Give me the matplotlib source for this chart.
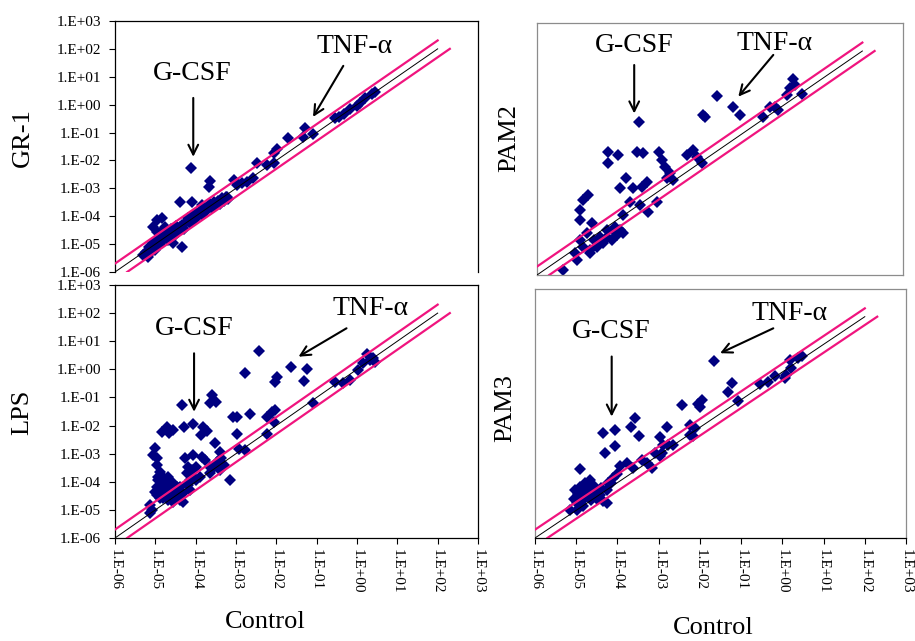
import numpy as np
import matplotlib
matplotlib.use("Agg")
import matplotlib.pyplot as plt

plt.rcParams['font.family'] = ['Liberation Serif', 'DejaVu Serif']

# ---------------- data (log10 of Control, log10 of treated) ----------------
gr1_points = [
    (-5.30, -5.40), (-5.22, -5.30), (-5.18, -5.45), (-5.15, -5.10), (-5.10, -5.25), (-5.05, -4.95),
    (-5.02, -5.20), (-5.00, -5.05), (-4.97, -4.80), (-4.95, -4.55), (-4.92, -4.90), (-4.90, -4.60),
    (-4.88, -5.00), (-4.85, -4.75), (-4.82, -4.50), (-4.80, -4.85), (-4.78, -4.65), (-4.75, -4.40),
    (-4.72, -4.70), (-4.70, -4.55), (-4.68, -4.85), (-4.65, -4.60), (-4.62, -4.45), (-4.60, -4.75),
    (-4.55, -4.50), (-4.50, -4.65), (-4.48, -4.35), (-4.45, -4.55), (-4.40, -4.40), (-4.35, -4.30),
    (-4.30, -4.45), (-4.25, -4.20), (-4.20, -4.05), (-4.15, -4.25), (-4.10, -4.00), (-4.05, -4.15),
    (-4.00, -3.90), (-3.95, -4.00), (-3.90, -3.80), (-3.85, -3.95), (-3.80, -3.70), (-3.75, -3.80),
    (-3.70, -3.65), (-3.65, -3.55), (-3.60, -3.70), (-3.55, -3.50), (-3.50, -3.60), (-3.45, -3.45),
    (-3.40, -3.55), (-3.35, -3.35), (-3.30, -3.45), (-3.25, -3.30), (-3.20, -3.40), (-3.23, -3.30),
    (-4.97, -4.13), (-4.84, -4.07), (-5.05, -4.37), (-4.34, -5.09), (-4.55, -4.97), (-5.13, -5.33),
    (-4.39, -3.48), (-4.10, -3.48), (-3.85, -3.60), (-3.64, -2.73), (-3.66, -2.94), (-4.11, -2.28),
    (-3.06, -2.70), (-2.98, -2.88), (-2.73, -2.76), (-2.57, -2.64), (-2.85, -2.80), (-2.48, -2.08),
    (-2.24, -2.16), (-2.07, -2.10), (-1.99, -1.60), (-2.07, -1.74), (-1.70, -1.20), (-1.29, -0.82),
    (-1.33, -1.15), (-1.08, -1.05), (-0.54, -0.49), (-0.33, -0.35), (-0.17, -0.17), (0.00, -0.05),
    (0.08, 0.05), (0.20, 0.23), (0.37, 0.37), (0.45, 0.47), (-0.45, -0.45),
]

lps_points = [
    (-2.42, 0.66), (-2.78, -0.14), (-1.64, 0.09), (-1.23, 0.00), (-1.31, -0.40), (-1.99, -0.26),
    (-2.03, -0.44), (-1.08, -1.19), (-4.35, -1.28), (-3.60, -0.91), (-3.50, -1.15), (-3.64, -1.21),
    (-2.65, -1.60), (-3.08, -1.71), (-2.97, -1.69), (-2.97, -2.30), (-2.24, -1.69), (-2.12, -1.51),
    (-2.03, -1.45), (-2.07, -1.86), (-2.24, -2.30), (-2.92, -2.85), (-2.78, -2.87), (-3.15, -3.94),
    (-4.29, -2.04), (-4.06, -1.95), (-3.81, -2.04), (-3.73, -2.18), (-3.87, -2.34),
    (-4.72, -2.04), (-4.84, -2.22), (-4.55, -2.16), (-4.65, -2.28),
    (-5.01, -2.81), (-5.05, -3.05), (-4.97, -3.17),
    (-3.52, -2.63), (-3.40, -2.93), (-3.36, -3.17), (-3.31, -3.41), (-3.48, -3.35), (-3.56, -3.52),
    (-4.26, -3.17), (-4.06, -3.05), (-3.85, -3.11), (-3.77, -3.23), (-4.18, -3.47), (-3.98, -3.47),
    (-4.10, -3.58), (-4.97, -3.41), (-4.88, -3.64), (-4.93, -3.94), (-4.80, -3.82), (-4.72, -4.06),
    (-4.97, -4.18), (-4.88, -4.41), (-4.76, -4.18), (-4.55, -4.06), (-4.51, -4.30), (-4.64, -4.53),
    (-4.22, -3.70), (-4.14, -3.94), (-3.98, -3.94), (-4.18, -4.12), (-4.39, -4.18), (-4.31, -4.41),
    (-4.47, -4.53), (-4.32, -4.71), (-4.80, -4.59), (-4.68, -4.65), (-4.55, -4.47), (-5.01, -4.36),
    (-4.97, -4.47), (-4.88, -4.59), (-5.13, -4.83), (-5.09, -5.00), (-5.13, -5.10), (-4.80, -4.53),
    (-4.47, -4.41), (-4.39, -4.65), (-4.55, -4.71), (-4.72, -4.30), (-4.84, -4.06), (-4.93, -3.82),
    (-4.68, -3.82), (-4.60, -4.06), (-4.47, -4.18), (-4.18, -4.06), (-4.06, -3.82), (-4.14, -4.30),
    (-3.89, -3.82), (-3.64, -3.70), (-3.40, -3.58), (-3.64, -3.47), (-3.48, -3.29),
    (-0.55, -0.44), (-0.34, -0.50), (-0.17, -0.38), (0.03, -0.02), (0.16, 0.21), (0.24, 0.54),
    (0.32, 0.33), (0.40, 0.39), (0.45, 0.27),
]

pam2_points = [
    (-3.49, -0.52), (-1.58, 0.40), (-1.17, -0.01), (-1.00, -0.29), (-1.93, -0.29), (-1.87, -0.35),
    (0.30, 1.00), (0.22, 0.67), (0.51, 0.45), (0.14, 0.43), (0.34, 0.79), (-0.45, -0.35),
    (-0.27, -0.01), (-0.07, -0.11), (-0.15, 0.01),
    (-4.25, -1.60), (-4.25, -2.01), (-4.00, -1.71), (-3.55, -1.60), (-3.39, -1.65), (-3.00, -1.60),
    (-2.93, -1.89), (-2.85, -2.13), (-2.73, -2.37), (-2.65, -2.61), (-2.81, -2.55), (-2.32, -1.71),
    (-2.16, -1.54), (-2.07, -1.77), (-1.95, -2.01),
    (-3.80, -2.55), (-3.96, -2.90), (-3.63, -2.90), (-3.30, -2.67), (-3.43, -2.85), (-3.71, -3.38),
    (-3.47, -3.50), (-3.26, -3.74), (-3.06, -3.38), (-3.88, -3.86),
    (-4.74, -3.14), (-4.86, -3.32), (-4.94, -3.68), (-4.94, -4.04), (-4.66, -4.15), (-4.78, -4.51),
    (-4.61, -4.75), (-4.45, -4.63), (-4.29, -4.39), (-4.08, -4.27), (-3.96, -4.39), (-3.88, -4.51),
    (-4.94, -4.75), (-4.86, -4.99), (-4.70, -5.23), (-4.53, -4.99), (-4.37, -4.87), (-4.16, -4.75),
    (-4.04, -4.57), (-5.07, -5.23), (-5.02, -5.46), (-5.35, -5.82), (-4.70, -5.11), (-4.29, -4.63),
    (-4.12, -4.39),
]

pam3_points = [
    (-1.66, 0.40), (-1.23, -0.38), (-1.31, -0.74), (-1.07, -1.03), (-2.44, -1.19), (-2.04, -1.15),
    (-1.96, -1.01), (-2.00, -1.25),
    (-0.54, -0.43), (-0.34, -0.35), (-0.18, -0.16), (0.06, -0.23), (0.18, 0.44), (0.22, 0.14),
    (0.39, 0.50), (0.47, 0.58), (0.10, -0.10),
    (-4.34, -2.19), (-4.06, -2.09), (-4.30, -2.91), (-4.06, -2.67), (-3.57, -1.65), (-3.66, -1.97),
    (-3.47, -2.31), (-2.81, -1.97), (-2.98, -2.35), (-2.93, -2.93), (-2.65, -2.63), (-2.89, -2.63),
    (-2.24, -1.91), (-2.12, -2.03), (-2.24, -2.27), (-2.16, -2.33),
    (-4.91, -3.51),
    (-5.03, -4.28), (-4.91, -4.14), (-4.79, -4.02), (-4.67, -3.90), (-4.59, -4.08), (-4.50, -4.26),
    (-4.75, -4.44), (-4.63, -4.62), (-4.83, -4.62), (-4.99, -4.74), (-5.15, -4.98), (-4.99, -4.98),
    (-4.83, -4.86), (-4.42, -4.44), (-4.26, -4.26), (-4.22, -4.02), (-4.10, -3.84), (-3.94, -3.41),
    (-3.78, -3.29), (-3.62, -3.47), (-3.41, -3.17), (-3.29, -3.29), (-3.17, -3.47), (-3.09, -2.93),
    (-2.97, -3.05), (-2.77, -2.63), (-4.26, -4.74), (-4.34, -4.68),
    (-4.95, -4.40), (-4.87, -4.30), (-4.70, -4.20), (-4.55, -4.45), (-4.90, -4.50), (-5.05, -4.60),
    (-4.50, -4.60), (-4.40, -4.20), (-4.15, -4.00), (-4.00, -3.70),
]

# annotation positions (log10 coordinates): text centre, arrow start, arrow tip
gr1_gcsf = ((-4.09, 1.10), (-4.06, 0.24), (-4.06, -1.87))
gr1_tnf = ((-0.07, 2.07), (-0.34, 1.39), (-1.09, -0.44))
lps_gcsf = ((-4.04, 1.46), (-4.04, 0.57), (-4.04, -1.51))
lps_tnf = ((0.34, 2.17), (-0.26, 1.46), (-1.45, 0.45))
pam2_gcsf = ((-3.61, 2.21), (-3.61, 1.50), (-3.61, -0.23))
pam2_tnf = ((-0.15, 2.27), (-0.19, 1.86), (-1.05, 0.37))
pam3_gcsf = ((-4.14, 1.46), (-4.14, 0.56), (-4.14, -1.61))
pam3_tnf = ((0.18, 2.12), (-0.22, 1.58), (-1.51, 0.68))

tick_values = [1e-6, 1e-5, 1e-4, 1e-3, 1e-2, 1e-1, 1e0, 1e1, 1e2, 1e3]
tick_labels = ['1.E-06', '1.E-05', '1.E-04', '1.E-03', '1.E-02', '1.E-01',
               '1.E+00', '1.E+01', '1.E+02', '1.E+03']

# reference lines: identity and 2-fold bounds
ident_x = [1e-6, 1e2]
upper_x = [1e-6, 1e2]
lower_x = [2e-6, 2e2]
fold = 2.0

marker_color = '#000080'
pink = '#F0147E'
gray = '#8c8c8c'

fig = plt.figure(figsize=(9.15, 6.41), dpi=100)

ax_tl = fig.add_axes([0.1257, 0.5757, 0.3967, 0.3916])
ax_bl = fig.add_axes([0.1257, 0.1607, 0.3967, 0.3947])
ax_tr = fig.add_axes([0.5869, 0.5710, 0.4000, 0.3931])
ax_br = fig.add_axes([0.5847, 0.1607, 0.4055, 0.3884])


def draw(ax, pts, gcsf, tnf):
    arr = np.array(pts)
    xs = np.power(10.0, arr[:, 0])
    ys = np.power(10.0, arr[:, 1])
    ax.plot(xs, ys, linestyle='none', marker='D', ms=6.6, mfc=marker_color,
            mec=marker_color, mew=0, zorder=2)
    ax.plot(ident_x, ident_x, color='black', lw=0.7, zorder=3)
    ax.plot(upper_x, [v * fold for v in upper_x], color=pink, lw=1.6, zorder=4)
    ax.plot(lower_x, [v / fold for v in lower_x], color=pink, lw=1.6, zorder=4)
    ax.set_xscale('log')
    ax.set_yscale('log')
    ax.set_xlim(1e-6, 1e3)
    ax.set_ylim(1e-6, 1e3)
    ax.minorticks_off()
    ax.set_xticks(tick_values)
    ax.set_yticks(tick_values)
    ax.set_xticklabels(tick_labels)
    ax.set_yticklabels(tick_labels)
    ax.tick_params(axis='both', direction='out', length=4, width=0.8, labelsize=11)
    ax.tick_params(axis='y', pad=6)
    ax.tick_params(axis='x', pad=4, labelrotation=-90)
    for label, (txt, a0, a1) in (('G-CSF', gcsf), ('TNF-\u03b1', tnf)):
        ax.text(10 ** txt[0], 10 ** txt[1], label, fontsize=20, ha='center', va='center', zorder=6)
        ax.annotate('', xy=(10 ** a1[0], 10 ** a1[1]), xytext=(10 ** a0[0], 10 ** a0[1]),
                    arrowprops=dict(arrowstyle='->,head_length=0.7,head_width=0.35',
                                    lw=1.5, color='black', shrinkA=0, shrinkB=0), zorder=6)
    for s in ax.spines.values():
        s.set_linewidth(0.9)


draw(ax_tl, gr1_points, gr1_gcsf, gr1_tnf)
draw(ax_bl, lps_points, lps_gcsf, lps_tnf)
draw(ax_tr, pam2_points, pam2_gcsf, pam2_tnf)
draw(ax_br, pam3_points, pam3_gcsf, pam3_tnf)

# top-left: y ticks only, no bottom axis line visible
ax_tl.tick_params(axis='x', bottom=False, labelbottom=False)
ax_tl.spines['bottom'].set_visible(False)

# top-right: no ticks, gray frame
ax_tr.tick_params(axis='both', left=False, bottom=False, labelleft=False, labelbottom=False)
for s in ax_tr.spines.values():
    s.set_color(gray)

# bottom-right: x ticks only
ax_br.tick_params(axis='y', left=False, labelleft=False)
for name in ('left', 'top', 'right'):
    ax_br.spines[name].set_color(gray)

# axis titles
fig.text(0.025, 0.786, 'GR-1', rotation=90, fontsize=19, ha='center', va='center')
fig.text(0.557, 0.785, 'PAM2', rotation=90, fontsize=19, ha='center', va='center')
fig.text(0.024, 0.356, 'LPS', rotation=90, fontsize=19, ha='center', va='center')
fig.text(0.552, 0.363, 'PAM3', rotation=90, fontsize=19, ha='center', va='center')
fig.text(0.290, 0.030, 'Control', fontsize=19, ha='center', va='center')
fig.text(0.779, 0.020, 'Control', fontsize=19, ha='center', va='center')

fig.savefig('out.png', dpi=100)
